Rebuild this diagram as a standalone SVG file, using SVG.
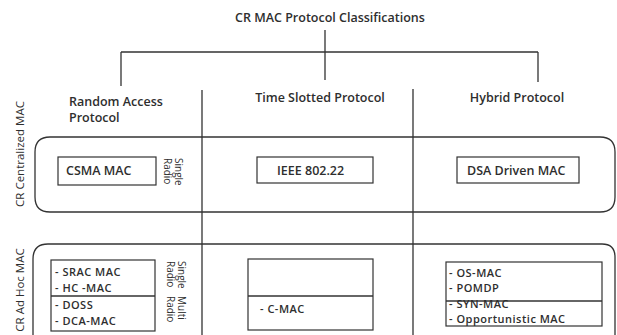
<svg xmlns="http://www.w3.org/2000/svg" width="617" height="335" viewBox="0 0 617 335">
<style>
text{font-family:"Open Sans","Liberation Sans",sans-serif;fill:#2e2e2e}
.h{font-size:12.5px;font-weight:600}
.b{font-size:12.5px;font-weight:600}
.i{font-size:11px;font-weight:600;letter-spacing:0.5px}
.v{font-size:11.5px}
.s{font-size:10px}
.ln{stroke:#333;stroke-width:1.3;fill:none}
.bx{stroke:#333;stroke-width:1.2;fill:#fff}
</style>
<rect width="617" height="335" fill="#fff"/>
<g id="connectors">
<path class="ln" d="M325 30V80M121 52H538M121 52V86M538 52V82"/>
</g>
<g id="frame">
<path class="ln" d="M202 90V335M413 89V335"/>
<path class="ln" d="M50 137H600Q615 137 615 152V197Q615 212 600 212H50Q35 212 35 197V152Q35 137 50 137Z"/>
<path class="ln" d="M33 335V259Q33 244 48 244H602Q615 244 615 257V335"/>
</g>
<g id="title"><text class="h" x="330" y="22" text-anchor="middle">CR MAC Protocol Classifications</text></g>
<g id="random-access"><text class="b" x="69" y="106">Random Access</text><text class="b" x="69" y="122">Protocol</text></g>
<g id="time-slotted"><text class="b" x="320" y="102" text-anchor="middle">Time Slotted Protocol</text></g>
<g id="hybrid"><text class="b" x="517" y="102" text-anchor="middle">Hybrid Protocol</text></g>
<g id="cr-centralized"><text class="v" transform="translate(24 154) rotate(-90)" text-anchor="middle">CR Centralized MAC</text></g>
<g id="cr-adhoc"><text class="v" transform="translate(24 290) rotate(-90)" text-anchor="middle">CR Ad Hoc MAC</text></g>
<g id="csma">
<rect class="bx" x="58" y="157" width="98" height="28"/>
<text class="b" x="66" y="175">CSMA MAC</text>
<text class="s" transform="translate(175 158) rotate(90)">Single</text>
<text class="s" transform="translate(164 158) rotate(90)">Radio</text>
</g>
<g id="ieee"><rect class="bx" x="257" y="157" width="116" height="26"/><text class="b" x="277" y="175">IEEE 802.22</text></g>
<g id="dsa"><rect class="bx" x="457" y="157" width="122" height="26"/><text class="b" x="467" y="175">DSA Driven MAC</text></g>
<g id="adhoc-random">
<rect class="bx" x="51" y="260" width="104" height="71"/>
<path class="ln" d="M51 296H155"/>
<text class="i" x="55" y="276">-  SRAC MAC</text>
<text class="i" x="55" y="292">-  HC -MAC</text>
<text class="i" x="55" y="309">-  DOSS</text>
<text class="i" x="55" y="325">-  DCA-MAC</text>
<text class="s" transform="translate(178 261) rotate(90)">Single</text>
<text class="s" transform="translate(167 261) rotate(90)">Radio</text>
<text class="s" transform="translate(178 296) rotate(90)">Multi</text>
<text class="s" transform="translate(167 296) rotate(90)">Radio</text>
</g>
<g id="adhoc-slotted">
<rect class="bx" x="248" y="259" width="125" height="71"/>
<path class="ln" d="M248 296H373"/>
<text class="i" x="260" y="313">-  C-MAC</text>
</g>
<g id="adhoc-hybrid">
<rect class="bx" x="446" y="262" width="156" height="64"/>
<path class="ln" d="M446 301H602"/>
<text class="i" x="449" y="276.5">- OS-MAC</text>
<text class="i" x="449" y="292">- POMDP</text>
<text class="i" x="449" y="307.5">- SYN-MAC</text>
<text class="i" x="449" y="323">- Opportunistic MAC</text>
</g>
</svg>
